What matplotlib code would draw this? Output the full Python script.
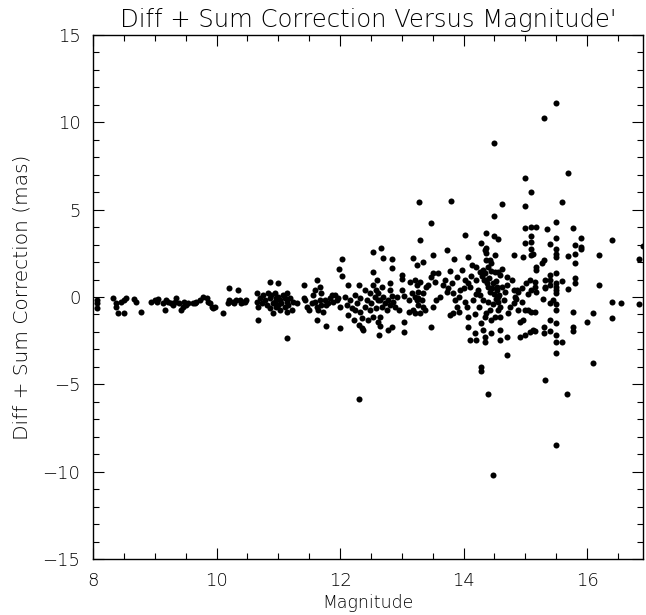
import matplotlib
matplotlib.use('Agg')
import matplotlib.pyplot as plt
from matplotlib.ticker import MultipleLocator

# ---- data: magnitude vs. diff+sum correction (mas) ----
mag_a = [8.06, 8.06, 8.06, 8.32, 8.38, 8.38, 8.40, 8.51, 8.46, 8.51, 8.54, 8.67, 8.70, 8.78,
         8.94, 9.00, 9.03, 9.05, 9.13, 9.16, 9.19, 9.21, 9.27, 9.30, 9.32, 9.35, 9.40, 9.43,
         9.46, 9.48, 9.51, 9.54, 9.62, 9.65, 9.67, 9.73, 9.78, 9.84, 9.86, 9.89, 9.92, 9.94,
         9.97, 10.11, 10.19, 10.21, 10.21, 10.27, 10.29, 10.32, 10.35, 10.38, 10.40, 10.43,
         10.46, 10.48]
corr_a = [-0.17, -0.36, -0.65, -0.08, -0.36, -0.55, -0.93, -0.93, -0.27, -0.17, -0.08, -0.12, -0.27, -0.84,
          -0.27, -0.17, -0.27, -0.12, -0.36, -0.74, -0.17, -0.27, -0.36, -0.46, -0.27, -0.08, -0.36, -0.74,
          -0.55, -0.27, -0.46, -0.36, -0.36, -0.36, -0.27, -0.17, 0.02, -0.08, -0.27, -0.36, -0.55, -0.65,
          -0.55, -0.93, -0.36, -0.17, 0.50, -0.27, -0.36, -0.17, 0.40, -0.17, -0.36, -0.27,
          -0.27, -0.17]

mag_b = [10.65, 10.65, 10.67, 10.70, 10.73, 10.76, 10.78, 10.81, 10.84, 10.87, 10.87, 10.89, 10.92, 10.92,
         10.95, 10.95, 10.97, 10.97, 11.00, 11.00, 11.03, 11.03, 11.05, 11.08, 11.11, 11.11, 11.14, 11.14,
         11.14, 11.16, 11.19, 11.22, 11.24, 11.30, 10.87, 11.00, 10.67, 11.14,
         11.41, 11.41, 11.43, 11.46, 11.49, 11.54, 11.57, 11.60, 11.60, 11.62, 11.62, 11.62, 11.65, 11.68,
         11.68, 11.70, 11.70, 11.73, 11.76, 11.78, 11.81, 11.78, 11.84, 11.87, 11.89, 11.92, 11.95, 11.97,
         12.00, 12.00,
         12.03, 11.98, 12.04, 12.13, 12.08, 12.11, 12.13, 12.16, 12.19, 12.22, 12.24, 12.24, 12.27, 12.30,
         12.30, 12.32, 12.32, 12.35, 12.35, 12.38, 12.40, 12.40, 12.43, 12.46, 12.49, 12.49, 12.51, 12.54,
         12.54, 12.54, 12.54, 12.57, 12.59, 12.59, 12.62, 12.62, 12.63, 12.30]
corr_b = [0.21, -0.27, -0.55, -0.08, -0.36, 0.11, -0.17, -0.46, 0.21, -0.08, -0.65, 0.11, -0.36, -0.93,
          0.21, -0.27, -0.08, -0.55, 0.02, -0.46, -0.17, -0.74, -0.36, 0.11, -0.08, -0.55, 0.21, -0.27,
          -0.84, -0.46, -0.08, -0.74, -0.27, -0.36, 0.88, 0.80, -1.32, -2.33,
          0.69, -0.08, -0.17, -0.55, -0.74, -0.36, 0.11, 0.40, -0.27, 0.97, -0.55, -1.32, -0.74, 0.60,
          -0.17, 0.21, -0.46, -0.84, -0.17, -0.46, -0.36, -1.66, -0.08, 0.11, -0.27, 0.11, -0.17, -0.08,
          -0.55, -1.79,
          2.17, 1.60, 1.20, 0.69, 0.02, -0.46, -1.03, -0.17, -0.65, -1.32, 0.11, -0.74, -0.36, 0.69,
          -1.60, -0.08, -0.84, -1.22, -1.79, -1.89, 0.40, -0.55, -0.17, -1.32, 0.21, -0.74, -0.36, 1.45,
          2.60, 0.69, -1.13, 0.02, -0.65, 0.40, -0.17, -1.41, -2.18, -5.85]

mag_c = [13.28, 13.80, 13.48, 14.02, 13.29, 12.67, 12.70, 12.84, 12.84, 13.18, 13.25, 13.35, 13.50,
         13.74, 13.85, 14.08, 12.60, 12.68, 12.81, 12.81, 12.84, 13.00, 13.00, 13.01, 13.03, 13.14,
         13.11, 13.04, 13.04, 12.62, 12.65, 12.68, 12.70, 12.73, 12.76, 12.78, 12.81, 12.86, 12.89,
         12.92, 12.65, 12.65, 12.78, 12.84, 12.95,
         13.21, 13.24, 13.26, 13.29, 13.21, 13.24, 13.26, 13.19, 13.32, 13.35, 13.38, 13.29, 13.21,
         13.11, 13.40, 13.43, 13.16, 13.35, 13.26,
         13.48, 13.51, 13.54, 13.59, 13.56, 13.51, 13.62, 13.67, 13.70, 13.73, 13.75, 13.78, 13.81,
         13.83, 13.86, 13.89, 13.89, 13.92, 13.94, 13.97, 14.00, 14.02, 13.78, 13.83, 13.92, 14.02,
         14.05, 14.08, 14.08, 13.48, 14.11]
corr_c = [5.42, 5.52, 4.25, 3.55, 3.24, 2.80, 2.25, 2.15, 1.65, 2.25, 1.85, 2.00, 2.38,
          2.68, 2.20, 2.30, 1.00, 0.55, 0.82, 0.40, 0.03, 1.25, 1.05, 0.40, 0.03, 0.88,
          -0.17, -1.45, -2.02, 0.21, -0.17, -0.55, 0.02, -0.36, -0.74, -0.17, -0.46, -0.27, -0.55,
          0.02, -1.13, -1.66, -1.89, -1.74, -0.74,
          0.97, 0.69, 0.31, 0.88, 0.02, -0.17, -0.46, -0.74, -0.17, -0.55, -0.74, -0.93, -0.93,
          -0.84, 0.59, 0.69, 0.21, 0.21, -0.08,
          1.17, 1.36, 0.88, 1.36, -0.17, -0.55, 0.02, 0.69, 0.97, 0.31, 0.50, 1.46, 0.78,
          0.21, -0.17, 1.17, -0.55, 0.02, 0.40, 1.55, 0.50, 0.97, -1.03, -0.93, -0.84, -0.27,
          -0.55, 0.78, -1.13, -1.70, -2.46]

mag_d = [14.62, 14.99, 14.50, 14.99, 15.10, 15.18, 14.36, 14.50, 14.56, 15.09, 14.99, 15.09, 14.29,
         14.36, 14.36, 14.51, 14.45, 14.37, 14.43, 14.13, 14.21, 14.32, 14.27, 14.35, 14.51, 14.56,
         14.59, 14.81, 14.96, 15.10, 15.18, 15.18, 14.10, 14.21, 14.24, 14.27, 14.32, 14.37, 14.40,
         14.43, 14.48, 14.54, 14.56, 14.56, 14.59, 14.62, 14.67, 14.70, 14.78, 14.81, 14.83, 14.86,
         14.89, 14.94, 15.02, 15.07, 15.10, 15.15, 15.18, 14.07, 14.19, 14.21, 14.32, 14.29, 14.35,
         14.37, 14.43, 14.45, 14.51, 14.56, 14.59, 14.59, 14.45, 14.35, 14.35, 14.59, 14.70, 14.72,
         14.81, 14.89, 14.91, 14.91, 14.96, 14.99, 15.04, 15.10, 15.12, 14.99, 15.07, 14.70, 14.29,
         14.35, 15.13, 15.10,
         14.30, 14.33, 14.38, 14.42, 14.46, 14.50, 14.52, 14.48, 14.53, 14.40, 14.45, 14.55, 14.58,
         14.65, 14.75, 14.15, 14.20, 14.25, 14.40, 14.62, 14.70, 14.85, 14.95, 15.05, 14.12, 14.18,
         14.49, 15.00, 15.09, 14.29, 14.40, 14.48]
corr_d = [5.32, 5.20, 4.65, 3.93, 3.99, 4.02, 3.68, 3.49, 3.30, 3.49, 3.07, 3.17, 3.07,
          2.78, 2.50, 2.40, 1.93, 2.12, 2.12, 1.83, 1.74, 1.55, 1.45, 1.36, 1.45, 1.45,
          1.26, 2.41, 2.31, 2.41, 1.55, 1.74, 0.59, 0.97, 0.40, 0.12, -0.17, 0.97, 0.59,
          0.31, 0.78, 0.40, 0.02, -0.27, -0.55, 0.59, 0.31, 1.17, 0.97, 0.40, 0.02, 0.40,
          0.31, 0.50, 0.78, 0.97, 0.40, 0.59, 0.31, -1.70, -2.08, -2.46, -1.89, -1.51, -1.13,
          -0.93, -0.74, -1.32, -1.13, -0.74, -1.13, -1.89, -2.08, -2.27, -2.56, -2.46, -2.27, -0.93,
          -0.36, -0.74, -2.27, -1.41, -1.32, -0.74, -0.74, -0.84, -1.89, -2.18, -1.98, -3.32, -3.99,
          2.69, 2.46, 2.73,
          1.20, 1.00, 0.80, 1.10, 0.50, 0.20, -0.10, -0.40, 0.90, 1.70, 1.50, 0.60, 0.10,
          -0.20, -0.60, -0.20, 0.20, -0.60, -0.30, 1.60, 0.70, -0.10, -0.30, 0.20, 1.20, -1.00,
          8.83, 6.79, 5.99, -4.25, -5.55, -10.20]

mag_e = [15.50, 15.40, 15.90, 15.80, 15.90, 15.90, 15.50, 15.50, 15.50, 15.70, 15.80, 16.20, 16.40,
         15.80, 15.30, 15.27, 15.35, 15.77, 15.50, 15.60, 15.70,
         15.16, 15.32, 15.32, 15.32, 15.40, 15.40, 15.40, 15.50, 15.50, 15.50, 15.50, 15.50, 15.60,
         15.70, 15.80, 15.80, 16.20, 16.40, 16.55, 16.84, 15.16, 15.16, 15.29, 15.40, 15.45, 15.50,
         15.50, 15.50, 15.50, 15.50, 15.50, 15.60, 15.40, 15.40, 15.31, 15.31, 15.77, 15.77, 15.77,
         16.00, 16.10, 16.40, 16.10, 15.32, 15.68, 16.90, 16.84, 15.50, 15.30, 15.50]
corr_e = [3.40, 3.03, 3.36, 2.95, 2.85, 2.75, 2.75, 2.48, 2.31, 2.35, 2.48, 2.42, 3.26,
          1.93, 2.12, 1.93, 3.87, 3.93, 4.31, 5.42, 7.12,
          0.88, 0.97, 0.59, 0.50, 1.26, 0.97, 0.69, 1.36, 0.78, 0.59, 0.40, 0.21, 0.93,
          0.44, 1.07, 0.78, 0.69, -0.30, -0.33, -0.40, -0.84, -1.93, -0.13, -0.32, -0.17, -0.40,
          -0.74, -1.51, -2.17, -2.56, -3.23, -2.56, -1.32, -1.93, -2.08, -1.70, -0.88, -1.70, -1.93,
          -1.41, -0.93, -1.22, -3.80, -4.75, -5.55, 2.90, 2.17, 11.12, 10.27, -8.50]

x_ticks = [8, 10, 12, 14, 16]
y_ticks = [-15, -10, -5, 0, 5, 10, 15]

title_text = "Diff + Sum Correction Versus Magnitude'"
x_label = "Magnitude"
y_label = "Diff + Sum Correction (mas)"

# ---- figure ----
fig = plt.figure(figsize=(6.46, 6.15), dpi=100)
ax = fig.add_axes([93 / 646, 56 / 615, 550 / 646, 524 / 615])

for m, c in [(mag_a, corr_a), (mag_b, corr_b), (mag_c, corr_c), (mag_d, corr_d), (mag_e, corr_e)]:
    ax.scatter(m, c, s=19, c='black', linewidths=0, zorder=3)

ax.set_xlim(8, 8 + 550 / 61.75)
ax.set_ylim(-15, 15)
ax.set_xticks(x_ticks)
ax.set_yticks(y_ticks)
ax.xaxis.set_minor_locator(MultipleLocator(0.5))
ax.yaxis.set_minor_locator(MultipleLocator(1))
ax.tick_params(which='both', direction='in', top=True, right=True, width=0.8, color='black')
ax.tick_params(which='major', length=8, labelsize=13, pad=9)
ax.tick_params(which='minor', length=4)
for sp in ax.spines.values():
    sp.set_linewidth(1.0)
for lab in ax.get_xticklabels() + ax.get_yticklabels():
    lab.set_fontweight('light')

ax.set_title(title_text, fontsize=17.5, pad=6, fontweight='light')
ax.set_xlabel(x_label, fontsize=12.5, labelpad=3, fontweight='light')
ax.set_ylabel(y_label, fontsize=14.5, labelpad=8, fontweight='light')

fig.savefig('out.png', dpi=100, facecolor='white')
